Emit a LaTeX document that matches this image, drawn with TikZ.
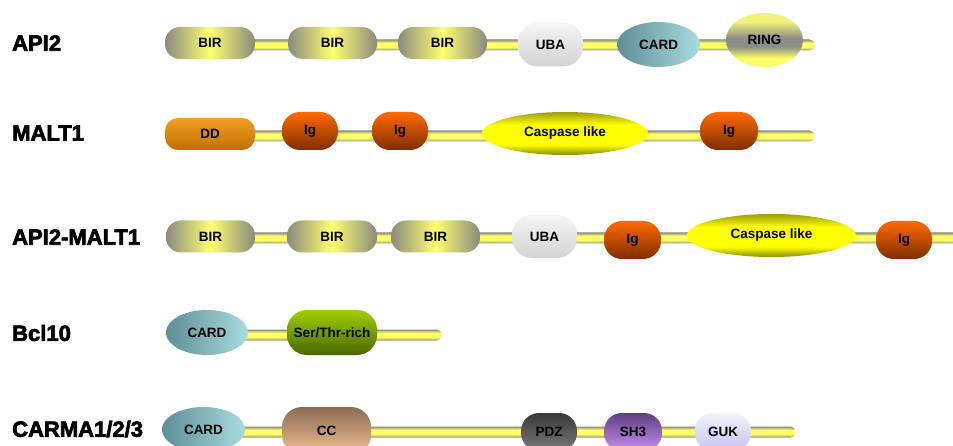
\documentclass[tikz,border=0pt]{standalone}
\usepackage{fontspec}
\setmainfont{Liberation Sans}
\newfontfamily\labfontfam[FakeBold=3]{Liberation Sans Bold}
\newfontfamily\domfontfam{Liberation Sans Bold}
\newcommand{\labfont}{\labfontfam\fontsize{22}{26}\selectfont}
\newcommand{\domfont}{\domfontfam\fontsize{13.5}{16}\selectfont}
\usetikzlibrary{shapes.geometric}
\definecolor{bbgray}{HTML}{8C8C7A}
\definecolor{bbyel}{HTML}{FFFF66}
\definecolor{birg}{HTML}{8A8A80}
\definecolor{biry}{HTML}{FFFF6E}
\definecolor{ubat}{HTML}{F4F4F4}
\definecolor{ubab}{HTML}{D3D3D3}
\definecolor{cardl}{HTML}{5E8E96}
\definecolor{cardr}{HTML}{A8DCE0}
\definecolor{ringy}{HTML}{FFFF66}
\definecolor{ringt}{HTML}{F2F27A}
\definecolor{ringg}{HTML}{8E8E88}
\definecolor{ddt}{HTML}{EFA024}
\definecolor{ddb}{HTML}{C26E00}
\definecolor{igt}{HTML}{FF6A00}
\definecolor{igb}{HTML}{7E2E00}
\definecolor{caspt}{HTML}{9C9C10}
\definecolor{caspm}{HTML}{FFFF00}
\definecolor{caspb}{HTML}{8A8A00}
\definecolor{sert}{HTML}{9ED000}
\definecolor{serb}{HTML}{4A6600}
\definecolor{cct}{HTML}{8C6A55}
\definecolor{ccb}{HTML}{F5C392}
\definecolor{pdzt}{HTML}{3A3A3A}
\definecolor{pdzb}{HTML}{7A7A7A}
\definecolor{sht}{HTML}{5E3E80}
\definecolor{shb}{HTML}{C890F2}
\definecolor{gukt}{HTML}{F2F2FC}
\definecolor{gukb}{HTML}{C4C4F0}
\pgfdeclareverticalshading{caspshade}{100bp}{color(0bp)=(caspb); color(25bp)=(caspb);
  color(37bp)=(caspm); color(60bp)=(caspm); color(75bp)=(caspt); color(100bp)=(caspt)}
\pgfdeclareverticalshading{ringshade}{100bp}{color(0bp)=(ringy); color(25bp)=(ringy);
  color(33bp)=(ringy); color(44bp)=(ringg); color(52bp)=(ringg); color(67bp)=(ringt);
  color(75bp)=(ringt); color(100bp)=(ringt)}
\pgfdeclareverticalshading{bbshade}{100bp}{color(0bp)=(bbgray); color(25bp)=(bbgray);
  color(40bp)=(bbyel); color(60bp)=(bbyel); color(75bp)=(bbgray); color(100bp)=(bbgray)}
\begin{document}
\begin{tikzpicture}[x=1pt,y=-1pt,
  bb/.style={rectangle, rounded corners=5.5pt, minimum height=11pt, inner sep=0pt,
    shading=bbshade},
  dom/.style={rectangle, inner sep=0pt, font=\domfont, text=black},
  ell/.style={ellipse, inner sep=0pt, font=\domfont, text=black},
  lab/.style={anchor=west, inner sep=0pt, font=\labfont, text=black},
  bir/.style={dom, rounded corners=15pt, minimum width=90pt, minimum height=32pt,
    left color=birg, right color=birg, middle color=biry},
  uba/.style={dom, rounded corners=20pt, minimum width=65pt, minimum height=44pt,
    top color=ubat, bottom color=ubab},
  card/.style={ell, minimum width=83pt, minimum height=45pt,
    left color=cardl, right color=cardr},
  ring/.style={ell, minimum width=77pt, minimum height=54pt, shading=ringshade},
  dd/.style={dom, rounded corners=13pt, minimum width=90pt, minimum height=32pt,
    top color=ddt, bottom color=ddb},
  ig/.style={dom, rounded corners=18pt, minimum width=57pt, minimum height=38pt,
    top color=igt, bottom color=igb},
  casp/.style={ell, minimum width=167pt, minimum height=43pt, shading=caspshade},
  ser/.style={dom, rounded corners=20pt, minimum width=90pt, minimum height=45pt,
    top color=sert, bottom color=serb},
  cc/.style={dom, rounded corners=20pt, minimum width=89pt, minimum height=48pt,
    top color=cct, bottom color=ccb},
  pdz/.style={dom, rounded corners=18pt, minimum width=56pt, minimum height=38pt,
    top color=pdzt, bottom color=pdzb},
  shthree/.style={dom, rounded corners=18pt, minimum width=58pt, minimum height=38pt,
    top color=sht, bottom color=shb},
  guk/.style={dom, rounded corners=18pt, minimum width=56pt, minimum height=38pt,
    top color=gukt, bottom color=gukb}
]
\useasboundingbox (0,0) rectangle (953,446);
\fill[white] (0,0) rectangle (953,446);

% labels
\node[lab] (l1) at (12,43) {API2};
\node[lab] (l2) at (12,133) {MALT1};
\node[lab] (l3) at (12,237) {API2-MALT1};
\node[lab] (l4) at (12,333) {Bcl10};
\node[lab] (l5) at (12,429) {CARMA1/2/3};

% row 1: API2
\node[bb, minimum width=650pt] (b1) at (490,45) {};
\node[bir] (r1a) at (210,43) {BIR};
\node[bir, minimum width=89pt] (r1b) at (332.5,43) {BIR};
\node[bir, minimum width=89pt] (r1c) at (442.5,43) {BIR};
\node[uba] (r1d) at (550.5,44.5) {UBA};
\node[card] (r1e) at (658.5,44.5) {CARD};
\node[ring] (r1f) at (764.5,40) {RING};

% row 2: MALT1
\node[bb, minimum width=650pt] (b2) at (490,136) {};
\node[dd] (r2a) at (210,134) {DD};
\node[ig, minimum width=56pt] (r2b) at (310,131) {Ig};
\node[ig, minimum width=56pt] (r2c) at (400,131) {Ig};
\node[casp, minimum width=166pt] (r2d) at (565,133.5) {Caspase like};
\node[ig, minimum width=58pt] (r2e) at (729,131) {Ig};

% row 3: API2-MALT1
\node[bb, minimum width=800pt] (b3) at (565,238) {};
\node[bir, minimum width=89pt] (r3a) at (210.5,236.5) {BIR};
\node[bir] (r3b) at (332,236.5) {BIR};
\node[bir, minimum width=89pt] (r3c) at (435.5,236.5) {BIR};
\node[uba, minimum height=43pt] (r3d) at (544.5,236.5) {UBA};
\node[ig] (r3e) at (632.5,240) {Ig};
\node[casp, minimum width=169pt] (r3f) at (771.5,235.5) {Caspase like};
\node[ig, minimum width=56pt] (r3g) at (904,240) {Ig};

% row 4: Bcl10
\node[bb, minimum width=277pt] (b4) at (303.5,335) {};
\node[card, minimum width=82pt] (r4a) at (207,332.5) {CARD};
\node[ser] (r4b) at (332,332.5) {Ser/Thr-rich};

% row 5: CARMA1/2/3
\node[bb, minimum width=631pt] (b5) at (480.5,432) {};
\node[card] (r5a) at (203.5,429.5) {CARD};
\node[cc] (r5b) at (326.5,431) {CC};
\node[pdz] (r5c) at (549,432) {PDZ};
\node[shthree] (r5d) at (633,432) {SH3};
\node[guk] (r5e) at (723,432) {GUK};
\end{tikzpicture}
\end{document}
